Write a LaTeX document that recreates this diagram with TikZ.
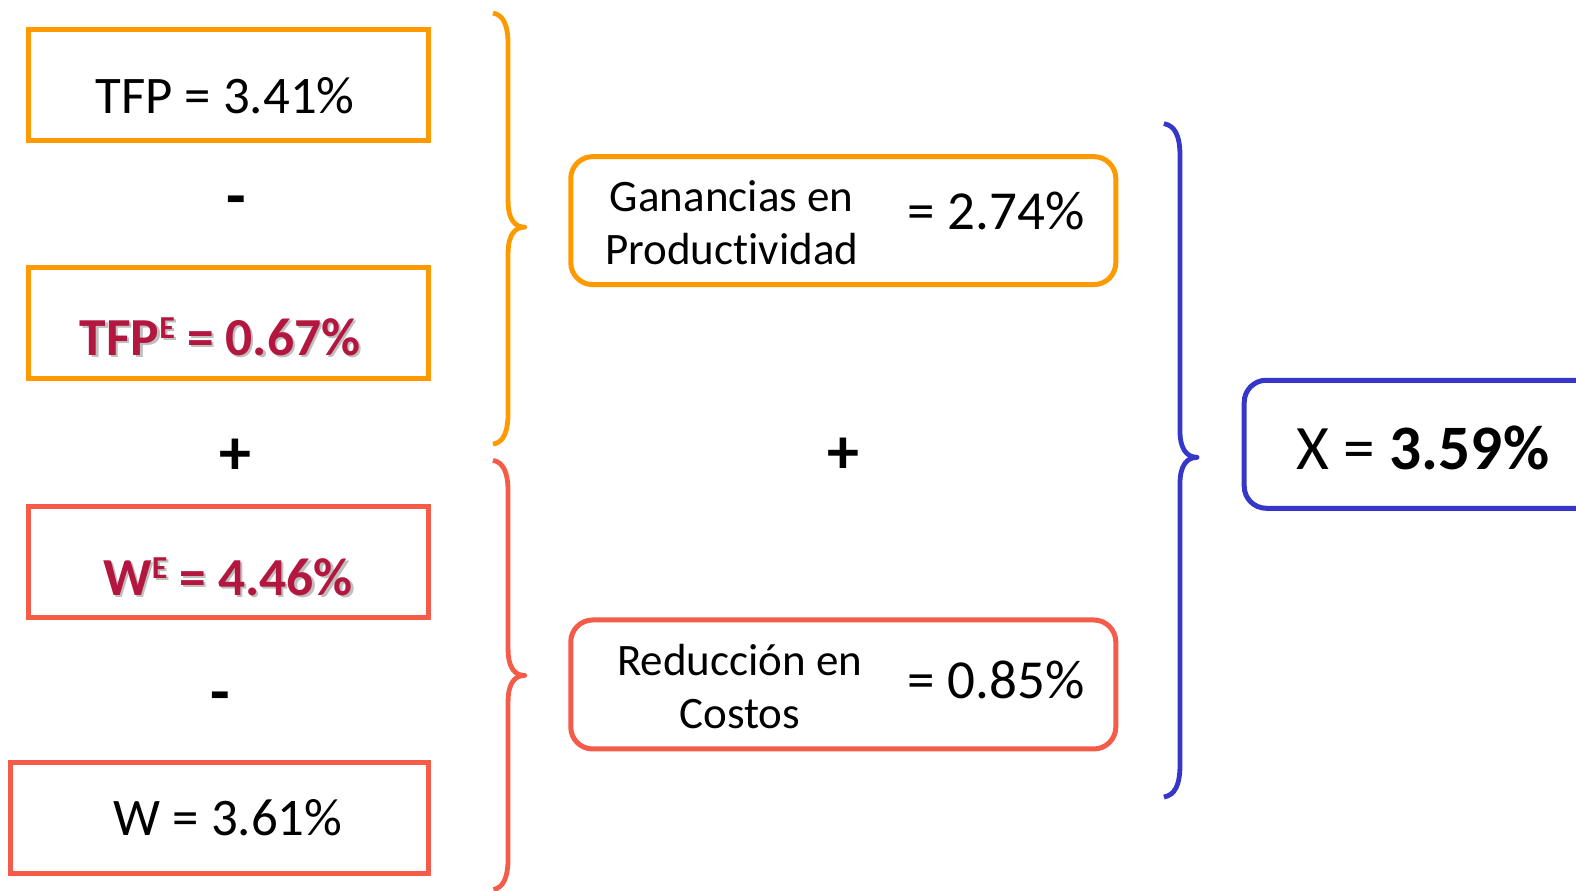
\documentclass[tikz,border=0pt]{standalone}
\usepackage{fontspec}
\setmainfont{Carlito}[Ligatures=NoCommon]
\definecolor{orng}{HTML}{FF9900}
\definecolor{rd}{HTML}{F55B49}
\definecolor{blu}{HTML}{3636C8}
\definecolor{crim}{HTML}{B3173F}
\definecolor{shd}{HTML}{BFBFBF}
\tikzset{
  sqbox/.style={draw, line width=5pt, minimum width=400pt, minimum height=111pt, inner sep=0pt},
  rbox/.style={draw, rounded corners=22pt, line width=5pt, inner sep=0pt},
  bracepath/.style={line width=4.8pt, line cap=butt, line join=round},
  bigtxt/.style={font=\fontsize{52.8}{62}\selectfont, inner sep=0pt},
  boldtxt/.style={font=\fontsize{53.5}{62}\selectfont\bfseries, inner sep=0pt},
  midtxt/.style={font=\fontsize{45}{53.3}\selectfont, inner sep=0pt, align=center},
  eqtxt/.style={font=\fontsize{55}{62}\selectfont, inner sep=0pt},
  optxt/.style={font=\fontsize{64}{70}\selectfont\bfseries, inner sep=0pt},
}
\newcommand{\supE}{\raisebox{17pt}{\fontsize{32}{35}\selectfont E}}
\begin{document}
\begin{tikzpicture}[x=1.005pt,y=-1.005pt]
\useasboundingbox (0,0) rectangle (1568,885.57);
\clip (0,0) rectangle (1568,885.57);
% left boxes
\node[sqbox, draw=orng] (b1) at (226.9,84.1) {};
\node[sqbox, draw=orng] (b2) at (226.9,321.4) {};
\node[sqbox, draw=rd] (b3) at (226.9,559.2) {};
\node[sqbox, draw=rd, minimum width=417pt] (b4) at (218.4,813.9) {};
% left texts
\node[bigtxt, anchor=base] (t1) at (224,113.4) {TFP = 3.41\%};
\node[boldtxt, anchor=base, text=shd] (t2s) at (221.2,355.5) {TFP\supE{} = 0.67\%};
\node[boldtxt, anchor=base, text=crim] (t2) at (219,353.3) {TFP\supE{} = 0.67\%};
\node[boldtxt, anchor=base, text=shd] (t3s) at (229.2,594.2) {W\supE{} = 4.46\%};
\node[boldtxt, anchor=base, text=crim] (t3) at (227,592) {W\supE{} = 4.46\%};
\node[bigtxt, anchor=base] (t4) at (227,830.8) {W = 3.61\%};
% operators
\node[optxt] (m1) at (235,206) {-};
\node[optxt] (p1) at (234,454) {+};
\node[optxt] (m2) at (219,699) {-};
\node[optxt] (p2) at (839,453) {+};
% braces
\draw[bracepath, orng] (490.5,13) .. controls (501,15) and (505.5,25) .. (505.5,45) -- (505.5,200)
  .. controls (505.5,218) and (512,226) .. (522,226)
  .. controls (512,226) and (505.5,234) .. (505.5,252) -- (505.5,410)
  .. controls (505.5,430) and (501,440) .. (490.5,442);
\draw[bracepath, rd] (490.5,458) .. controls (501,460) and (505.5,470) .. (505.5,490) -- (505.5,646)
  .. controls (505.5,664) and (512,672) .. (522,672)
  .. controls (512,672) and (505.5,680) .. (505.5,698) -- (505.5,853)
  .. controls (505.5,873) and (501,883) .. (491,885);
\draw[bracepath, blu] (1158,123) .. controls (1169,125) and (1174,135) .. (1174,155) -- (1174,429)
  .. controls (1174,447) and (1181,455) .. (1191,455)
  .. controls (1181,455) and (1174,463) .. (1174,481) -- (1174,761)
  .. controls (1174,781) and (1169,791) .. (1158,793);
% middle boxes
\node[rbox, draw=orng, minimum width=545pt, minimum height=128pt] (g) at (839,219.5) {};
\node[midtxt] (gt) at (728,221.5) {Ganancias en\\Productividad};
\node[eqtxt, anchor=base west] (gv) at (903,228) {= 2.74\%};
\node[rbox, draw=rd, minimum width=545pt, minimum height=129pt] (r) at (839,681) {};
\node[midtxt] (rt) at (736,683) {Reducción en\\Costos};
\node[eqtxt, anchor=base west] (rv) at (903,694.5) {= 0.85\%};
% result box
\node[rbox, draw=blu, minimum width=360pt, minimum height=128pt] (x) at (1417,442) {};
\node[font=\fontsize{63.3}{72}\selectfont, inner sep=0pt, anchor=base west] (xt) at (1290,467) {X = \textbf{3.59\%}};
\end{tikzpicture}
\end{document}
